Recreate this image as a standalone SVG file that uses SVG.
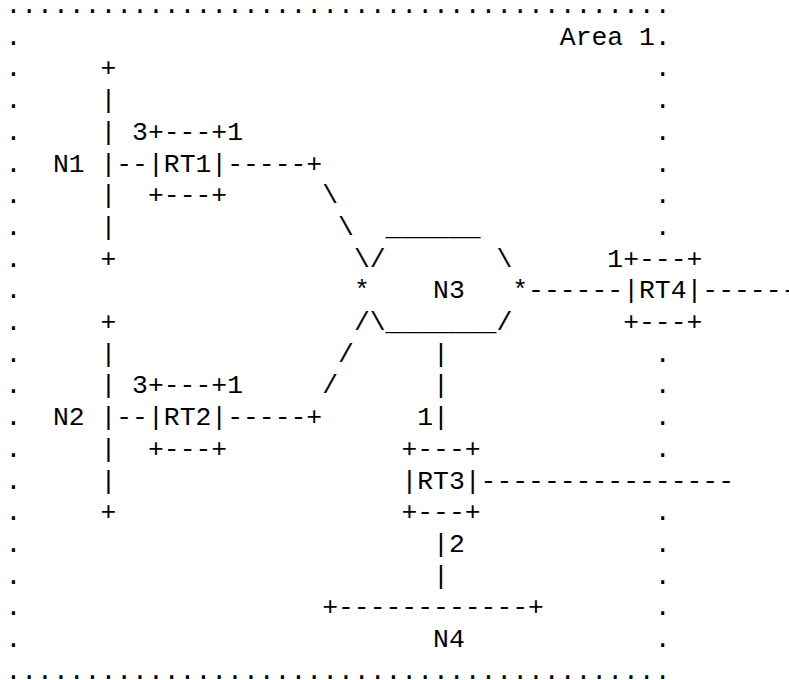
<svg xmlns="http://www.w3.org/2000/svg" width="789" height="680" viewBox="0 0 789 680">
<style>
text{font-family:"Liberation Mono","Courier New",monospace;font-size:26.4px;fill:#000;white-space:pre}
</style>
<rect x="0" y="0" width="789" height="680" fill="#fff"/>
<g id="area1">
<text x="5.4" y="13">..........................................</text>
<text x="5.4" y="678.7">..........................................</text>
<text x="559.8" y="44.7" xml:space="preserve">Area 1.</text>
<text x="5.4"><tspan x="5.4" y="44.7">.</tspan><tspan x="5.4" y="76.4">.</tspan><tspan x="5.4" y="108.1">.</tspan><tspan x="5.4" y="139.8">.</tspan><tspan x="5.4" y="171.5">.</tspan><tspan x="5.4" y="203.2">.</tspan><tspan x="5.4" y="234.9">.</tspan><tspan x="5.4" y="266.6">.</tspan><tspan x="5.4" y="298.3">.</tspan><tspan x="5.4" y="330">.</tspan><tspan x="5.4" y="361.7">.</tspan><tspan x="5.4" y="393.4">.</tspan><tspan x="5.4" y="425.1">.</tspan><tspan x="5.4" y="456.8">.</tspan><tspan x="5.4" y="488.5">.</tspan><tspan x="5.4" y="520.2">.</tspan><tspan x="5.4" y="551.9">.</tspan><tspan x="5.4" y="583.6">.</tspan><tspan x="5.4" y="615.3">.</tspan><tspan x="5.4" y="647">.</tspan></text>
<text x="654.84"><tspan x="654.84" y="76.4">.</tspan><tspan x="654.84" y="108.1">.</tspan><tspan x="654.84" y="139.8">.</tspan><tspan x="654.84" y="171.5">.</tspan><tspan x="654.84" y="203.2">.</tspan><tspan x="654.84" y="234.9">.</tspan><tspan x="654.84" y="361.7">.</tspan><tspan x="654.84" y="393.4">.</tspan><tspan x="654.84" y="425.1">.</tspan><tspan x="654.84" y="456.8">.</tspan><tspan x="654.84" y="520.2">.</tspan><tspan x="654.84" y="551.9">.</tspan><tspan x="654.84" y="583.6">.</tspan><tspan x="654.84" y="615.3">.</tspan><tspan x="654.84" y="647">.</tspan></text>
</g>
<g id="N1">
<text x="100.44"><tspan x="100.44" y="76.4">+</tspan><tspan x="100.44" y="108.1">|</tspan><tspan x="100.44" y="139.8">|</tspan><tspan x="100.44" y="171.5">|</tspan><tspan x="100.44" y="203.2">|</tspan><tspan x="100.44" y="234.9">|</tspan><tspan x="100.44" y="266.6">+</tspan></text>
<text x="52.92" y="171.5">N1</text>
</g>
<g id="N2">
<text x="100.44"><tspan x="100.44" y="330">+</tspan><tspan x="100.44" y="361.7">|</tspan><tspan x="100.44" y="393.4">|</tspan><tspan x="100.44" y="425.1">|</tspan><tspan x="100.44" y="456.8">|</tspan><tspan x="100.44" y="488.5">|</tspan><tspan x="100.44" y="520.2">+</tspan></text>
<text x="52.92" y="425.1">N2</text>
</g>
<g id="RT1">
<text x="132.12" y="139.8">3+---+1</text>
<text x="147.96" y="171.5">|RT1|</text>
<text x="147.96" y="203.2">+---+</text>
</g>
<g id="RT2">
<text x="132.12" y="393.4">3+---+1</text>
<text x="147.96" y="425.1">|RT2|</text>
<text x="147.96" y="456.8">+---+</text>
</g>
<g id="RT3">
<text x="417.24" y="425.1">1</text>
<text x="401.4" y="456.8">+---+</text>
<text x="401.4" y="488.5">|RT3|</text>
<text x="401.4" y="520.2">+---+</text>
<text x="448.92" y="551.9">2</text>
</g>
<g id="RT4">
<text x="607.32" y="266.6">1+---+</text>
<text x="623.16" y="298.3">|RT4|</text>
<text x="623.16" y="330">+---+</text>
</g>
<g id="N3">
<text x="385.56" y="234.9">______</text>
<text x="369.72" y="266.6">/</text>
<text x="496.44" y="266.6">\</text>
<text x="353.88" y="298.3">*</text>
<text x="433.08" y="298.3">N3</text>
<text x="512.28" y="298.3">*</text>
<text x="369.72" y="330">\_______/</text>
</g>
<g id="N4">
<text x="322.2" y="615.3">+------------+</text>
<text x="433.08" y="647">N4</text>
</g>
<g id="connectors">
<text x="116.28" y="171.5">--</text>
<text x="227.16" y="171.5">-----+</text>
<text x="322.2" y="203.2">\</text>
<text x="338.04" y="234.9">\</text>
<text x="353.88" y="266.6">\</text>
<text x="116.28" y="425.1">--</text>
<text x="227.16" y="425.1">-----+</text>
<text x="322.2" y="393.4">/</text>
<text x="338.04" y="361.7">/</text>
<text x="353.88" y="330">/</text>
<text x="528.12" y="298.3">------</text>
<text x="702.36" y="298.3">------</text>
<text x="433.08"><tspan x="433.08" y="361.7">|</tspan><tspan x="433.08" y="393.4">|</tspan><tspan x="433.08" y="425.1">|</tspan></text>
<text x="480.6" y="488.5">----------------</text>
<text x="433.08"><tspan x="433.08" y="551.9">|</tspan><tspan x="433.08" y="583.6">|</tspan></text>
</g>
</svg>
